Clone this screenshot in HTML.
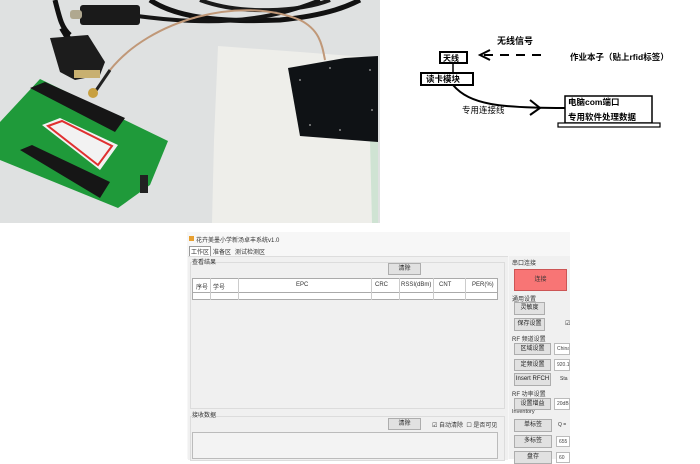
<!DOCTYPE html>
<html><head><meta charset="utf-8"><style>
body{margin:0;width:700px;height:459px;background:#fff;overflow:hidden;position:relative;font-family:"Liberation Sans","Noto Sans CJK SC",sans-serif}
.a{position:absolute}
.btn{position:absolute;background:#e1e1e1;border:1px solid #adadad;font-size:6px;color:#222;text-align:center;box-sizing:border-box;line-height:11px}
.lbl{position:absolute;font-size:6px;color:#333;white-space:nowrap}
.in{position:absolute;background:#fff;border:1px solid #bbb;font-size:5px;color:#444;box-sizing:border-box;line-height:10px;padding-left:2px;overflow:hidden;white-space:nowrap}
</style></head><body>
<svg class="a" style="left:0;top:0" width="380" height="223" viewBox="0 0 380 223">
<rect width="380" height="223" fill="#dfe1e1"/>
<polygon points="218,46 300,52 378,58 378,223 212,223 214,140" fill="#eeeeea"/>
<polygon points="370,140 378,138 378,223 372,223" fill="#cfe3d3"/>
<path d="M55,0 C60,20 62,28 70,35" stroke="#111" stroke-width="5" fill="none"/>
<path d="M150,0 C180,20 230,22 280,20 C330,15 350,5 360,0" stroke="#111" stroke-width="5" fill="none"/>
<path d="M200,0 C240,15 300,12 330,0" stroke="#1a1a1a" stroke-width="4" fill="none"/>
<path d="M130,15 C200,25 260,25 320,0" stroke="#151515" stroke-width="4" fill="none"/>
<rect x="80" y="5" width="60" height="20" rx="3" fill="#1a1a1a"/>
<rect x="70" y="10" width="12" height="9" rx="3" fill="#b0a890"/>
<path d="M62,28 L68,38" stroke="#111" stroke-width="6"/>
<polygon points="50,38 88,35 105,62 100,75 75,80 60,72" fill="#1c1c1c"/>
<rect x="74" y="70" width="26" height="8" fill="#c8b070"/>
<path d="M110,70 C150,20 240,-5 300,20 C320,30 322,45 325,60" stroke="#c09878" stroke-width="2" fill="none"/>
<path d="M110,70 L95,92" stroke="#222" stroke-width="3"/>
<circle cx="93" cy="93" r="5" fill="#c8a040"/>
<polygon points="288,68 345,58 378,56 378,142 300,136" fill="#0f1215"/>
<g fill="#888"><circle cx="300" cy="80" r="1"/><circle cx="310" cy="125" r="1"/><circle cx="340" cy="130" r="1"/><circle cx="370" cy="70" r="1"/><circle cx="372" cy="110" r="1"/><circle cx="330" cy="68" r="1"/></g>
<polygon points="0,122 40,79 168,141 150,185 118,208 0,160" fill="#1f9a3a"/>
<polygon points="30,88 45,82 125,118 115,132" fill="#161616"/>
<polygon points="20,150 32,145 110,182 100,198" fill="#161616"/>
<polygon points="42,125 60,118 118,145 100,170" fill="#f2f2f2"/>
<polygon points="48,126 62,121 112,146 98,165" fill="none" stroke="#e03030" stroke-width="2"/>
<rect x="140" y="175" width="8" height="18" fill="#222"/>
</svg>

<!-- diagram -->
<svg class="a" style="left:395;top:20" width="305" height="115" viewBox="395 20 305 115">
<rect x="440" y="52" width="27" height="11" fill="#fff" stroke="#000" stroke-width="2"/>
<rect x="421" y="73" width="52" height="12" fill="#fff" stroke="#000" stroke-width="2"/>
<line x1="453" y1="63" x2="453" y2="73" stroke="#000" stroke-width="1.5"/>
<line x1="484" y1="55" x2="548" y2="55" stroke="#000" stroke-width="2" stroke-dasharray="9,7"/>
<path d="M490,50 L480,55 L490,60" stroke="#000" stroke-width="2" fill="none"/>
<path d="M453,85 C470,105 500,108 565,108" stroke="#000" stroke-width="2" fill="none"/>
<path d="M530,100 L540,108 L530,115" stroke="#000" stroke-width="2" fill="none"/>
<rect x="565" y="96" width="87" height="27" fill="#fff" stroke="#000" stroke-width="1.5"/>
<rect x="558" y="123" width="102" height="4" fill="#fff" stroke="#000" stroke-width="1.2"/>
<g font-family="Liberation Sans,Noto Sans CJK SC,sans-serif" font-weight="bold" font-size="9" fill="#000">
<text x="497" y="44">无线信号</text>
<text x="443" y="61" font-size="8">天线</text>
<text x="426" y="82" font-size="8.5">读卡模块</text>
<text x="570" y="60" font-size="8.5">作业本子（贴上rfid标签）</text>
<text x="462" y="113" font-size="8.5" font-weight="normal">专用连接线</text>
<text x="568" y="105" font-size="8.5">电脑com端口</text>
<text x="568" y="120" font-size="8.5">专用软件处理数据</text>
</g>
</svg>

<!-- software -->
<div class="a" style="left:187px;top:232px;width:383px;height:227px;background:#f7f7f7"></div>
<div class="a" style="left:189px;top:236px;width:5px;height:5px;background:#e8a030"></div>
<div class="lbl" style="left:196px;top:235px">花卉美墨小学新汤卓丰系统v1.0</div>
<div class="lbl" style="left:189px;top:246px;border:1px solid #999;padding:0 1px;background:#fff">工作区</div>
<div class="lbl" style="left:213px;top:247px">准备区</div>
<div class="lbl" style="left:235px;top:247px">测试检测区</div>
<div class="a" style="left:188px;top:256px;width:320px;height:203px;background:#f0f0f0;border-top:1px solid #ddd"></div>
<div class="a" style="left:190px;top:262px;width:313px;height:145px;border:1px solid #dcdcdc"></div>
<div class="lbl" style="left:192px;top:257px;background:#f0f0f0">查看结果</div>
<div class="btn" style="left:388px;top:263px;width:33px;height:12px">清除</div>
<div class="a" style="left:192px;top:278px;width:306px;height:22px;background:#fff;border:1px solid #aaa;box-sizing:border-box"></div>
<div class="a" style="left:192px;top:292px;width:306px;height:1px;background:#aaa"></div>
<div class="lbl" style="left:196px;top:282px">序号</div>
<div class="lbl" style="left:213px;top:282px">学号</div>
<div class="lbl" style="left:296px;top:282px">EPC</div>
<div class="lbl" style="left:375px;top:282px">CRC</div>
<div class="lbl" style="left:401px;top:282px">RSSI(dBm)</div>
<div class="lbl" style="left:439px;top:282px">CNT</div>
<div class="lbl" style="left:472px;top:282px">PER(%)</div>
<div class="a" style="left:210px;top:278px;width:1px;height:22px;background:#ccc"></div>
<div class="a" style="left:238px;top:278px;width:1px;height:22px;background:#ccc"></div>
<div class="a" style="left:371px;top:278px;width:1px;height:22px;background:#ccc"></div>
<div class="a" style="left:399px;top:278px;width:1px;height:22px;background:#ccc"></div>
<div class="a" style="left:433px;top:278px;width:1px;height:22px;background:#ccc"></div>
<div class="a" style="left:465px;top:278px;width:1px;height:22px;background:#ccc"></div>
<div class="a" style="left:190px;top:416px;width:313px;height:43px;border:1px solid #dcdcdc"></div>
<div class="lbl" style="left:192px;top:410px;background:#f0f0f0">接收数据</div>
<div class="btn" style="left:388px;top:418px;width:33px;height:12px">清除</div>
<div class="lbl" style="left:432px;top:420px">☑ 自动清除 &nbsp;☐ 是否可见</div>
<div class="a" style="left:192px;top:432px;width:306px;height:27px;background:#f3f3f3;border:1px solid #bbb;box-sizing:border-box"></div>
<!-- right -->
<div class="a" style="left:509px;top:256px;width:61px;height:203px;background:#f0f0f0"></div>
<div class="lbl" style="left:512px;top:258px">串口连接</div>
<div class="a" style="left:514px;top:269px;width:53px;height:22px;background:#f87575;border:1px solid #c55;box-sizing:border-box;font-size:6px;text-align:center;line-height:20px;color:#333">连接</div>
<div class="lbl" style="left:512px;top:294px">通用设置</div>
<div class="btn" style="left:514px;top:302px;width:31px;height:13px">灵敏度</div>
<div class="btn" style="left:514px;top:318px;width:31px;height:13px">保存设置</div>
<div class="lbl" style="left:565px;top:320px">☑</div>
<div class="lbl" style="left:512px;top:334px">RF 频道设置</div>
<div class="btn" style="left:514px;top:343px;width:37px;height:12px">区域设置</div>
<div class="in" style="left:554px;top:343px;width:16px;height:12px">China</div>
<div class="btn" style="left:514px;top:359px;width:37px;height:12px">定频设置</div>
<div class="in" style="left:554px;top:359px;width:16px;height:12px">920.1</div>
<div class="btn" style="left:514px;top:373px;width:37px;height:13px">Insert RFCH</div>
<div class="lbl" style="left:560px;top:376px;font-size:5px">Sta</div>
<div class="lbl" style="left:512px;top:389px">RF 功率设置</div>
<div class="btn" style="left:514px;top:398px;width:37px;height:12px">设置增益</div>
<div class="in" style="left:554px;top:398px;width:16px;height:12px">20dB</div>
<div class="lbl" style="left:512px;top:409px;font-size:5.5px">Inventory</div>
<div class="btn" style="left:514px;top:419px;width:38px;height:13px">单标签</div>
<div class="lbl" style="left:558px;top:422px;font-size:5px">Q =</div>
<div class="btn" style="left:514px;top:435px;width:38px;height:13px">多标签</div>
<div class="in" style="left:556px;top:436px;width:14px;height:11px">655</div>
<div class="btn" style="left:514px;top:451px;width:38px;height:13px">盘存</div>
<div class="in" style="left:556px;top:452px;width:14px;height:11px">60</div>
</body></html>
